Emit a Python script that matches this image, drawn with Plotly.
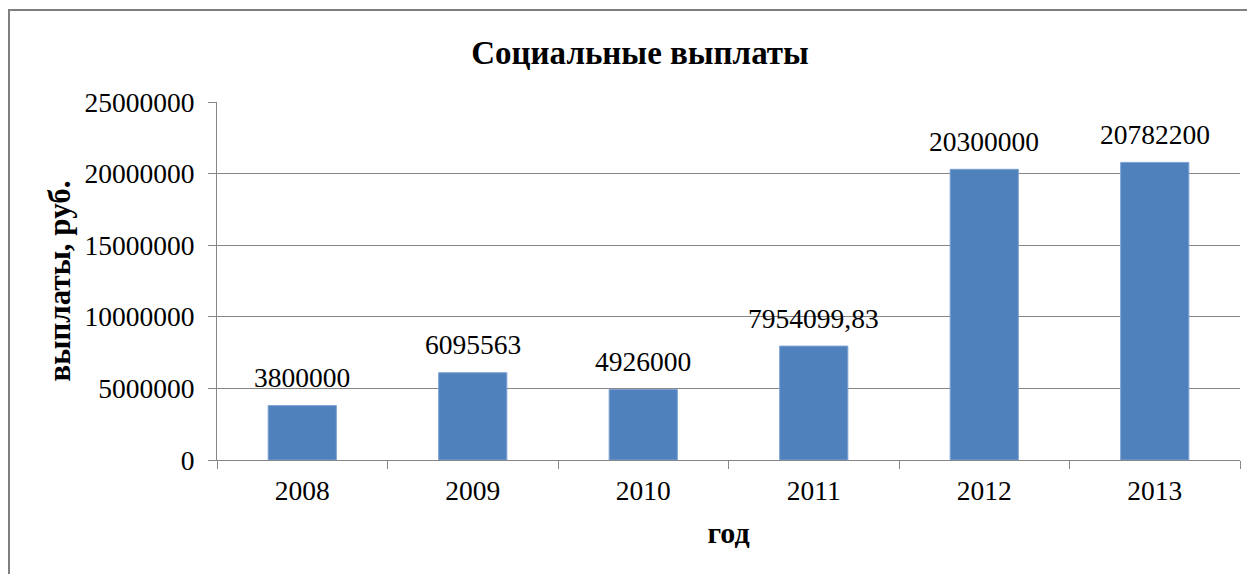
import plotly.graph_objects as go

years = ["2008", "2009", "2010", "2011", "2012", "2013"]
payments = [3800000, 6095563, 4926000, 7954099.83, 20300000, 20782200]
labels = ["3800000", "6095563", "4926000", "7954099,83", "20300000", "20782200"]
y_ticks = [0, 5000000, 10000000, 15000000, 20000000, 25000000]

# page body has an 8px offset; compensate
OFF = 8
W, H = 1255, 574
L, R, T, B = 217 - OFF, 15 + OFF, 102 - OFF, 114 + OFF
SERIF = "Liberation Serif, Times New Roman, serif"

fig = go.Figure(go.Bar(
    x=years, y=payments,
    marker=dict(color="#4F81BD", line=dict(color="#7EA3D3", width=1)),
    width=0.4, hoverinfo="x+y",
))

# numeric-looking categories: reference them by category index
for i, (val, lab) in enumerate(zip(payments, labels)):
    fig.add_annotation(x=i, y=val, xref="x", yref="y", text=lab, showarrow=False,
                       yanchor="middle", yshift=28,
                       font=dict(family=SERIF, size=27.5, color="black"))

pw = W - L - R
ph = H - T - B
# outer chart frame (left/top edges visible)
fig.add_shape(type="rect", xref="paper", yref="paper",
              x0=(9 - OFF - L) / pw, x1=(W + 10 - L) / pw,
              y0=-(B + 20) / ph, y1=(H - B - (10 - OFF)) / ph,
              line=dict(color="#7F7F7F", width=2), layer="below")

fig.update_layout(
    width=W, height=H,
    margin=dict(l=L, r=R, t=T, b=B, autoexpand=False),
    paper_bgcolor="white", plot_bgcolor="white",
    showlegend=False,
    font=dict(family=SERIF, size=27.5, color="black"),
    title=dict(text="<b>Социальные выплаты</b>", x=(640 - OFF) / W, xanchor="center",
               y=1 - (52 - OFF) / H, yanchor="middle",
               font=dict(family=SERIF, size=33, color="black")),
    xaxis=dict(type="category", categoryorder="array", categoryarray=years,
               range=[-0.5, len(years) - 0.5],
               showline=True, linecolor="#868686", linewidth=1,
               ticks="outside", tickson="boundaries", ticklen=8, tickcolor="#868686",
               ticklabelstandoff=6,
               tickfont=dict(family=SERIF, size=27.5, color="black"), tickangle=0,
               showgrid=False, title=dict(text="<b>год</b>", standoff=16,
                                          font=dict(family=SERIF, size=30))),
    yaxis=dict(range=[0, 25000000], tickvals=y_ticks, tickformat="d",
               showline=True, linecolor="#868686", linewidth=1,
               ticks="outside", ticklen=8, tickcolor="#868686",
               ticklabelstandoff=8,
               tickfont=dict(family=SERIF, size=27.5, color="black"),
               showgrid=True, gridcolor="#868686", gridwidth=1,
               zeroline=False,
               title=dict(text="<b>выплаты, руб.</b>", standoff=4,
                          font=dict(family=SERIF, size=31))),
)

fig.write_html("out.html")
